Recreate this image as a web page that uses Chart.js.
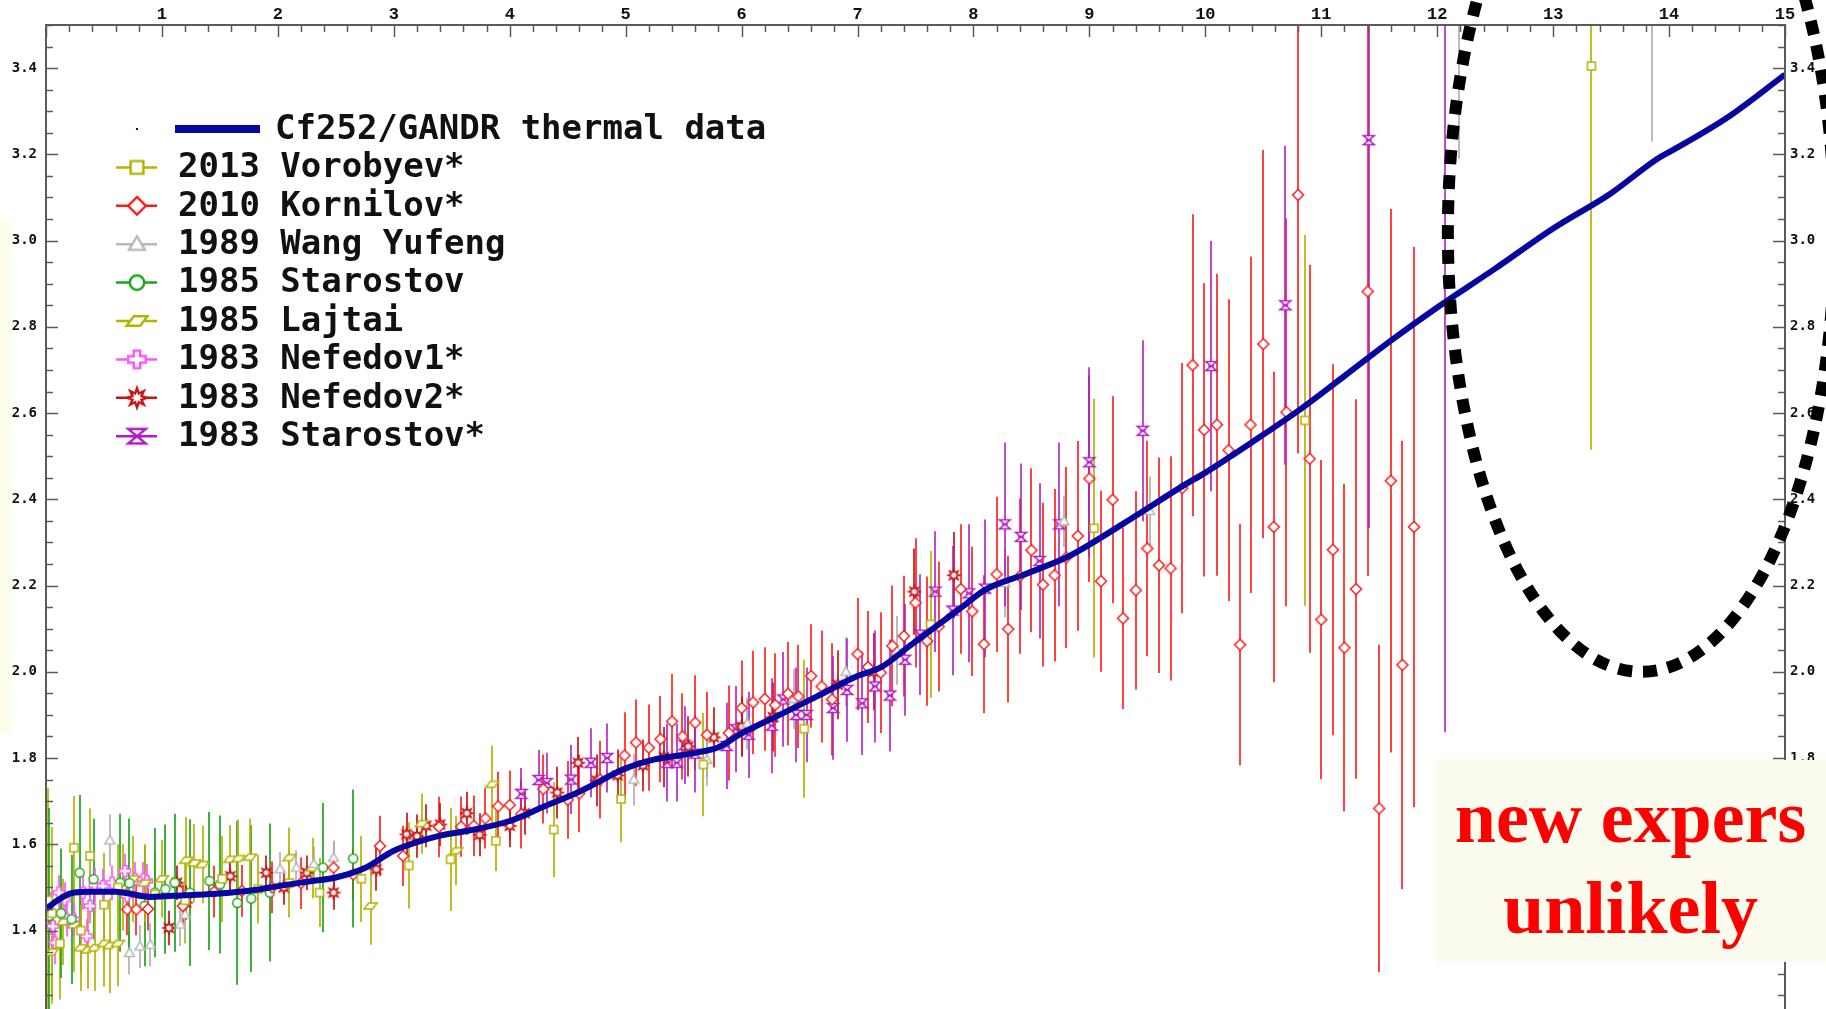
<!DOCTYPE html>
<html>
<head>
<meta charset="utf-8">
<title>Cf252 thermal data</title>
<script src="https://cdn.jsdelivr.net/npm/chart.js@4.4.0/dist/chart.umd.min.js"></script>
<style>
html, body { margin: 0; padding: 0; background: #fff; overflow: hidden; }
#wrap { position: relative; width: 1826px; height: 1009px; }
#leftPatch { position: absolute; left: 0; top: 220px; width: 11px; height: 514px; background: #fdfde9; }
#chart { position: absolute; left: 0; top: 0; }
#note {
    position: absolute; left: 1435px; top: 760px; width: 391px; height: 202px;
    background: #fcfcee; box-sizing: border-box; padding-top: 12px;
    text-align: center; color: #ff0000;
    font-family: "Liberation Serif", "Times New Roman", serif;
    font-weight: bold; font-size: 74px; line-height: 91px;
}
</style>
</head>
<body>
<div id="wrap">
    <div id="leftPatch"></div>
    <canvas id="chart" width="1826" height="1009"></canvas>
    <div id="note">new expers<br>unlikely</div>
</div>
<script>
/* ==========================================================
   DATA
========================================================== */
const xTicks = [1, 2, 3, 4, 5, 6, 7, 8, 9, 10, 11, 12, 13, 14, 15];
const yTicks = [1.4, 1.6, 1.8, 2.0, 2.2, 2.4, 2.6, 2.8, 3.0, 3.2, 3.4];

// Cf252/GANDR thermal data (thick blue curve)
const gandrX = [0, 0.1, 0.2, 0.35, 0.6, 0.9, 1.2, 1.5, 1.8, 2.0, 2.3, 2.5, 2.75, 3.0, 3.2, 3.4, 3.65, 4.0, 4.3, 4.6,
    5.0, 5.25, 5.6, 5.8, 6.0, 6.35, 6.65, 7.0, 7.2, 7.45, 7.7, 7.9, 8.1, 8.45, 8.8, 9.0, 9.4, 9.8, 10.0, 10.4,
    10.8, 11.2, 11.6, 12.0, 12.5, 13.0, 13.5, 13.9, 14.0, 14.5, 15.0];
const gandrY = [1.45, 1.47, 1.485, 1.49, 1.49, 1.478, 1.482, 1.486, 1.494, 1.503, 1.515, 1.523, 1.545, 1.585, 1.605, 1.62, 1.632, 1.654, 1.688, 1.722,
    1.776, 1.797, 1.812, 1.825, 1.857, 1.903, 1.943, 1.99, 2.01, 2.06, 2.11, 2.15, 2.19, 2.227, 2.265, 2.295, 2.362, 2.43, 2.462, 2.532,
    2.605, 2.686, 2.768, 2.845, 2.935, 3.028, 3.11, 3.19, 3.205, 3.285, 3.385];

// 2013 Vorobyev*
const vorobyevX = [0.02, 0.05, 0.12, 0.24, 0.3, 0.38, 0.5, 0.62, 0.94, 1.2, 1.52, 1.83, 2.1, 2.36, 2.72, 3.13, 3.49, 3.88, 4.38, 4.96, 5.67, 6.54, 7.63, 9.04, 10.86, 13.33];
const vorobyevY = [1.47, 1.44, 1.37, 1.592, 1.40, 1.573, 1.46, 1.50, 1.484, 1.47, 1.52, 1.496, 1.51, 1.488, 1.52, 1.551, 1.565, 1.608, 1.634, 1.705, 1.785, 1.868, 2.11, 2.333, 2.583, 3.405];
const vorobyevErr = [0.26, 0.2, 0.13, 0.12, 0.1, 0.11, 0.12, 0.1, 0.1, 0.1, 0.1, 0.08, 0.08, 0.08, 0.1, 0.1, 0.12, 0.07, 0.11, 0.1, 0.12, 0.16, 0.17, 0.3, 0.43, 0.89];

// 2010 Kornilov*
const kornilovX = [0.7, 0.78, 0.88, 1.18, 1.45, 1.69, 1.95, 2.2, 2.48, 2.65,
    2.88, 3.08, 3.39, 3.58, 3.69, 3.79, 3.9, 4.0, 4.1, 4.29,
    4.5, 4.6, 4.78, 4.99, 5.09, 5.2, 5.3, 5.4, 5.49, 5.6,
    5.7, 5.89, 6.0, 6.1, 6.2, 6.29, 6.4, 6.49, 6.6, 6.69,
    6.78, 7.0, 7.09, 7.2, 7.3, 7.4, 7.5, 7.6, 7.7, 7.89,
    7.99, 8.09, 8.2, 8.3, 8.4, 8.5, 8.6, 8.7, 8.8, 8.9,
    9.0, 9.1, 9.2, 9.29, 9.4, 9.5, 9.6, 9.7, 9.8, 9.89,
    9.99, 10.1, 10.2, 10.3, 10.39, 10.5, 10.59, 10.7, 10.8, 10.9,
    11.0, 11.1, 11.2, 11.3, 11.4, 11.5, 11.6, 11.7, 11.8];
const kornilovY = [1.449, 1.449, 1.45, 1.457, 1.49, 1.492, 1.5, 1.51, 1.546, 1.53,
    1.596, 1.573, 1.64, 1.641, 1.643, 1.66, 1.688, 1.691, 1.67, 1.728,
    1.703, 1.718, 1.75, 1.806, 1.836, 1.824, 1.844, 1.885, 1.85, 1.882,
    1.854, 1.858, 1.916, 1.929, 1.937, 1.923, 1.949, 1.943, 1.99, 1.966,
    1.936, 2.041, 2.011, 1.998, 2.06, 2.083, 2.16, 2.071, 2.105, 2.192,
    2.14, 2.064, 2.226, 2.099, 2.222, 2.282, 2.202, 2.224, 2.265, 2.315,
    2.448, 2.21, 2.399, 2.124, 2.189, 2.286, 2.247, 2.24, 2.426, 2.711,
    2.561, 2.573, 2.514, 2.063, 2.573, 2.76, 2.336, 2.602, 3.106, 2.494,
    2.121, 2.283, 2.056, 2.192, 2.882, 1.683, 2.443, 2.016, 2.336];
const kornilovErr = [0.06, 0.06, 0.05, 0.05, 0.06, 0.06, 0.06, 0.06, 0.06, 0.06,
    0.07, 0.07, 0.07, 0.07, 0.07, 0.07, 0.08, 0.08, 0.08, 0.08,
    0.09, 0.09, 0.09, 0.1, 0.1, 0.1, 0.1, 0.11, 0.1, 0.11,
    0.1, 0.11, 0.11, 0.12, 0.12, 0.12, 0.12, 0.12, 0.12, 0.13,
    0.13, 0.13, 0.13, 0.14, 0.14, 0.14, 0.15, 0.15, 0.15, 0.15,
    0.15, 0.16, 0.18, 0.17, 0.18, 0.19, 0.19, 0.2, 0.21, 0.22,
    0.24, 0.21, 0.24, 0.21, 0.23, 0.25, 0.25, 0.26, 0.29, 0.35,
    0.34, 0.35, 0.35, 0.28, 0.39, 0.45, 0.36, 0.45, 0.6, 0.45,
    0.37, 0.43, 0.38, 0.44, 0.66, 0.38, 0.63, 0.52, 0.65];

// 1989 Wang Yufeng
const wangX = [0.55, 0.72, 0.81, 0.9, 1.16, 1.2, 2.02, 2.16, 2.31, 2.48, 5.07, 5.7, 6.05, 6.45, 6.9, 7.34, 8.27, 8.78, 9.52, 12.19, 13.85];
const wangY = [1.609, 1.348, 1.363, 1.367, 1.414, 1.437, 1.542, 1.546, 1.554, 1.569, 1.75, 1.796, 1.88, 1.937, 2.0, 2.05, 2.206, 2.349, 2.373, 3.65, 3.65];
const wangErr = [0.06, 0.05, 0.05, 0.05, 0.05, 0.05, 0.04, 0.04, 0.04, 0.04, 0.06, 0.06, 0.06, 0.07, 0.08, 0.08, 0.08, 0.06, 0.08, 0.46, 0.42];

// 1985 Starostov
const starostov85X = [0.03, 0.13, 0.22, 0.29, 0.41, 0.64, 0.72, 0.85, 0.94, 1.03, 1.11, 1.24, 1.41, 1.5, 1.65, 1.77, 1.93, 2.39, 2.65];
const starostov85Y = [1.434, 1.44, 1.426, 1.534, 1.519, 1.511, 1.51, 1.457, 1.488, 1.496, 1.511, 1.488, 1.515, 1.507, 1.464, 1.474, 1.488, 1.546, 1.567];
const starostov85Err = [0.25, 0.15, 0.15, 0.18, 0.14, 0.16, 0.15, 0.14, 0.15, 0.15, 0.16, 0.17, 0.16, 0.16, 0.19, 0.17, 0.16, 0.15, 0.16];

// 1985 Lajtai
const lajtaiX = [0.05, 0.15, 0.24, 0.3, 0.36, 0.42, 0.5, 0.55, 0.62, 0.66, 0.75, 0.85, 1.0, 1.21, 1.28, 1.35, 1.59, 1.66, 1.76, 2.1, 2.3, 2.8, 3.24, 3.54, 3.85];
const lajtaiY = [1.35, 1.42, 1.413, 1.36, 1.355, 1.36, 1.37, 1.365, 1.37, 1.50, 1.52, 1.51, 1.52, 1.563, 1.557, 1.553, 1.565, 1.567, 1.57, 1.569, 1.545, 1.457, 1.648, 1.585, 1.739];
const lajtaiErr = [0.12, 0.1, 0.11, 0.1, 0.09, 0.1, 0.1, 0.11, 0.1, 0.1, 0.1, 0.09, 0.09, 0.1, 0.09, 0.09, 0.08, 0.09, 0.09, 0.07, 0.07, 0.09, 0.07, 0.08, 0.09];

// 1983 Nefedov1*
const nefedov1X = [0.04, 0.06, 0.08, 0.11, 0.16, 0.18, 0.24, 0.32, 0.35, 0.38, 0.42, 0.49, 0.57, 0.68, 0.7, 0.77, 0.84, 0.87];
const nefedov1Y = [1.44, 1.41, 1.372, 1.488, 1.472, 1.426, 1.426, 1.488, 1.387, 1.457, 1.505, 1.503, 1.511, 1.538, 1.48, 1.519, 1.519, 1.515];
const nefedov1Err = [0.05, 0.05, 0.05, 0.04, 0.04, 0.04, 0.04, 0.04, 0.04, 0.04, 0.04, 0.04, 0.04, 0.04, 0.04, 0.04, 0.04, 0.04];

// 1983 Nefedov2*
const nefedov2X = [1.06, 1.13, 1.21, 1.59, 1.9, 2.05, 2.25, 2.48, 2.85, 3.11, 3.2, 3.28, 3.4, 3.63, 3.74, 4.0, 4.13, 4.41, 4.59, 4.75,
    4.93, 5.15, 5.33, 5.54, 5.76, 6.0, 6.27, 6.83, 7.14, 7.49, 7.83];
const nefedov2Y = [1.406, 1.511, 1.465, 1.526, 1.534, 1.5, 1.534, 1.488, 1.542, 1.623, 1.619, 1.643, 1.646, 1.672, 1.622, 1.643, 1.672, 1.72, 1.789, 1.748,
    1.76, 1.783, 1.802, 1.827, 1.848, 1.873, 1.895, 1.97, 2.0, 2.186, 2.224];
const nefedov2Err = [0.04, 0.04, 0.04, 0.04, 0.04, 0.04, 0.04, 0.04, 0.05, 0.05, 0.05, 0.05, 0.05, 0.05, 0.05, 0.05, 0.05, 0.06, 0.06, 0.06,
    0.06, 0.06, 0.07, 0.07, 0.07, 0.07, 0.08, 0.08, 0.09, 0.1, 0.1];

// 1983 Starostov*
const starostov83X = [4.1, 4.25, 4.32, 4.53, 4.7, 4.84, 5.36, 5.44, 5.51, 5.6, 5.87, 5.95, 6.06, 6.26, 6.36, 6.47, 6.56, 6.79, 6.91, 7.04,
    7.15, 7.28, 7.41, 7.54, 7.67, 7.82, 7.96, 8.1, 8.27, 8.41, 8.57, 8.74, 9.0, 9.46, 10.05, 10.69, 11.41, 12.07];
const starostov83Y = [1.717, 1.749, 1.742, 1.75, 1.789, 1.8, 1.789, 1.789, 1.83, 1.81, 1.828, 1.867, 1.854, 1.875, 1.936, 1.9, 1.9, 1.916, 1.958, 1.927,
    1.966, 1.945, 2.028, 2.086, 2.186, 2.142, 2.182, 2.193, 2.342, 2.313, 2.257, 2.342, 2.486, 2.559, 2.709, 2.85, 3.233, 3.65];
const starostov83Err = [0.06, 0.07, 0.07, 0.08, 0.08, 0.08, 0.09, 0.09, 0.09, 0.09, 0.1, 0.1, 0.1, 0.11, 0.11, 0.11, 0.11, 0.12, 0.12, 0.12,
    0.13, 0.13, 0.13, 0.14, 0.14, 0.15, 0.16, 0.16, 0.19, 0.17, 0.18, 0.19, 0.22, 0.21, 0.29, 0.37, 0.9, 1.79];

// dotted ellipse annotation, in data units
const ringCenter = [13.76, 3.019];
const ringRadius = [1.668, 1.019];

/* ==========================================================
   MARKERS (small canvases used as pointStyle)
========================================================== */
function makeMarker(kind, color, s) {
    const size = Math.ceil(16 * s);
    const c = document.createElement("canvas");
    c.width = size; c.height = size;
    const g = c.getContext("2d");
    g.translate(size / 2, size / 2);
    g.scale(s, s);
    g.strokeStyle = color;
    g.fillStyle = "#fff";
    g.lineWidth = 1.5;
    g.beginPath();
    if (kind === "square") {
        g.rect(-4, -4, 8, 8);
    } else if (kind === "diamond") {
        g.moveTo(0, -5.5); g.lineTo(5.5, 0); g.lineTo(0, 5.5); g.lineTo(-5.5, 0); g.closePath();
    } else if (kind === "triangle") {
        g.moveTo(0, -5); g.lineTo(5, 3.5); g.lineTo(-5, 3.5); g.closePath();
    } else if (kind === "circle") {
        g.arc(0, 0, 4.5, 0, Math.PI * 2);
    } else if (kind === "plus") {
        const a = 2, b = 5.5;
        g.moveTo(-a, -b); g.lineTo(a, -b); g.lineTo(a, -a); g.lineTo(b, -a); g.lineTo(b, a); g.lineTo(a, a);
        g.lineTo(a, b); g.lineTo(-a, b); g.lineTo(-a, a); g.lineTo(-b, a); g.lineTo(-b, -a); g.lineTo(-a, -a); g.closePath();
    } else if (kind === "star") {
        for (let i = 0; i < 16; i++) {
            const r = i % 2 === 0 ? 6 : 3;
            const ang = i * Math.PI / 8;
            const px = r * Math.cos(ang), py = r * Math.sin(ang);
            if (i === 0) g.moveTo(px, py); else g.lineTo(px, py);
        }
        g.closePath();
    } else if (kind === "hourglass") {
        g.moveTo(-5.5, -4.5); g.lineTo(5.5, -4.5); g.lineTo(-5.5, 4.5); g.lineTo(5.5, 4.5); g.closePath();
    } else if (kind === "slant") {
        g.moveTo(-6.5, 3); g.lineTo(-2, -3); g.lineTo(6.5, -3); g.lineTo(2, 3); g.closePath();
    }
    g.fill();
    g.stroke();
    if (kind === "hourglass") {
        g.beginPath(); g.moveTo(-3, 0); g.lineTo(3, 0); g.stroke();
    }
    return c;
}

function pts(xs, ys) {
    return xs.map((x, i) => ({ x: x, y: ys[i] }));
}

function series(label, xs, ys, errs, color, barColor, kind) {
    return {
        label: label,
        data: pts(xs, ys),
        errorBars: errs,
        errorColor: barColor,
        borderColor: color,
        backgroundColor: "#fff",
        pointStyle: makeMarker(kind, color, 1),
        legendMarker: makeMarker(kind, color, 1.6),
        pointRadius: 6,
        showLine: false
    };
}

const scatterSets = [
    series("2013 Vorobyev*", vorobyevX, vorobyevY, vorobyevErr, "#b3b300", "rgba(179,179,0,0.85)", "square"),
    series("2010 Kornilov*", kornilovX, kornilovY, kornilovErr, "#ff1a1a", "rgba(255,20,20,0.8)", "diamond"),
    series("1989 Wang Yufeng", wangX, wangY, wangErr, "#b8b8b8", "rgba(180,180,180,0.9)", "triangle"),
    series("1985 Starostov", starostov85X, starostov85Y, starostov85Err, "#1aa61a", "rgba(26,166,26,0.85)", "circle"),
    series("1985 Lajtai", lajtaiX, lajtaiY, lajtaiErr, "#b3b300", "rgba(179,179,0,0.85)", "slant"),
    series("1983 Nefedov1*", nefedov1X, nefedov1Y, nefedov1Err, "#ff55ff", "rgba(255,85,255,0.85)", "plus"),
    series("1983 Nefedov2*", nefedov2X, nefedov2Y, nefedov2Err, "#c81414", "rgba(200,20,20,0.85)", "star"),
    series("1983 Starostov*", starostov83X, starostov83Y, starostov83Err, "#b01cc4", "rgba(176,28,196,0.8)", "hourglass")
];

const gandrSet = {
    label: "Cf252/GANDR thermal data",
    data: pts(gandrX, gandrY),
    showLine: true,
    borderColor: "#0606a0",
    borderWidth: 6,
    pointRadius: 0,
    cubicInterpolationMode: "monotone"
};

/* ==========================================================
   PLUGINS
========================================================== */
const errorBarPlugin = {
    id: "errorBars",
    beforeDatasetsDraw(chart) {
        const { ctx, chartArea } = chart;
        const xs = chart.scales.x, ys = chart.scales.y;
        ctx.save();
        ctx.beginPath();
        ctx.rect(chartArea.left, chartArea.top, chartArea.right - chartArea.left, chartArea.bottom - chartArea.top);
        ctx.clip();
        ctx.lineWidth = 2;
        chart.data.datasets.forEach(ds => {
            if (!ds.errorBars) return;
            ctx.strokeStyle = ds.errorColor;
            ds.data.forEach((p, i) => {
                const e = ds.errorBars[i];
                const px = Math.round(xs.getPixelForValue(p.x));
                ctx.beginPath();
                ctx.moveTo(px, ys.getPixelForValue(p.y - e));
                ctx.lineTo(px, ys.getPixelForValue(p.y + e));
                ctx.stroke();
            });
        });
        ctx.restore();
    }
};

const axisPlugin = {
    id: "axisFrame",
    afterDraw(chart) {
        const { ctx, chartArea } = chart;
        const xs = chart.scales.x, ys = chart.scales.y;
        const L = chartArea.left, R = chartArea.right, T = chartArea.top, B = chartArea.bottom;
        ctx.save();
        ctx.strokeStyle = "#5a5a5a";
        ctx.lineWidth = 2;
        ctx.beginPath();
        ctx.moveTo(L, B); ctx.lineTo(L, T); ctx.lineTo(R, T); ctx.lineTo(R, B);
        ctx.stroke();
        ctx.lineWidth = 1.5;
        // top axis: major every 1, minor every 0.2
        for (let i = 0; i <= 75; i++) {
            const px = Math.round(xs.getPixelForValue(i / 5)) + 0.5;
            const len = i % 5 === 0 ? 12 : 7;
            ctx.beginPath(); ctx.moveTo(px, T); ctx.lineTo(px, T + len); ctx.stroke();
        }
        // left and right axes: major every 0.2, minor every 0.05
        for (let i = 25; i <= 70; i++) {
            const py = Math.round(ys.getPixelForValue(i / 20)) + 0.5;
            if (py > B) continue;
            const len = i % 4 === 0 ? 12 : 7;
            ctx.beginPath(); ctx.moveTo(L, py); ctx.lineTo(L + len, py); ctx.stroke();
            ctx.beginPath(); ctx.moveTo(R, py); ctx.lineTo(R - len, py); ctx.stroke();
        }
        ctx.restore();
    }
};

const legendPlugin = {
    id: "legendBlock",
    afterDraw(chart) {
        const ctx = chart.ctx;
        const rowY = i => 129 + i * 38.4;
        ctx.save();
        ctx.font = 'bold 34px "DejaVu Sans Mono", monospace';
        ctx.textBaseline = "middle";
        // thermal data row
        ctx.fillStyle = gandrSet.borderColor;
        ctx.fillRect(136, rowY(0) - 1, 2, 2);
        ctx.fillRect(175, rowY(0) - 4, 85, 8);
        ctx.fillStyle = "#111";
        ctx.fillText(gandrSet.label, 275, rowY(0) + 1);
        scatterSets.forEach((ds, k) => {
            const y = rowY(k + 1);
            ctx.strokeStyle = ds.borderColor;
            ctx.lineWidth = 2.5;
            ctx.beginPath(); ctx.moveTo(116, y); ctx.lineTo(157, y); ctx.stroke();
            const m = ds.legendMarker;
            ctx.drawImage(m, 137 - m.width / 2, y - m.height / 2);
            ctx.fillStyle = "#111";
            ctx.fillText(ds.label, 178, y + 1);
        });
        ctx.restore();
    }
};

const ringPlugin = {
    id: "ring",
    afterDraw(chart) {
        const ctx = chart.ctx;
        const xs = chart.scales.x, ys = chart.scales.y;
        const cx = xs.getPixelForValue(ringCenter[0]);
        const cy = ys.getPixelForValue(ringCenter[1]);
        const rx = xs.getPixelForValue(ringCenter[0] + ringRadius[0]) - cx;
        const ry = ys.getPixelForValue(ringCenter[1] - ringRadius[1]) - cy;
        ctx.save();
        ctx.strokeStyle = "#000";
        ctx.lineWidth = 12;
        ctx.lineCap = "butt";
        ctx.setLineDash([14, 11]);
        ctx.beginPath();
        ctx.ellipse(cx, cy, rx, ry, 0, 0, Math.PI * 2);
        ctx.stroke();
        ctx.restore();
    }
};

/* ==========================================================
   CHART
========================================================== */
const tickFontY = { family: "DejaVu Sans Mono", weight: "bold", size: 14 };

// fixed axis sizes, and no extra padding for the first/last tick label
function fixWidth(w) {
    return s => {
        s.width = w;
        s.paddingTop = 0; s.paddingBottom = 0;
    };
}

new Chart(document.getElementById("chart").getContext("2d"), {
    type: "scatter",
    data: { datasets: [gandrSet].concat(scatterSets) },
    options: {
        responsive: false,
        animation: false,
        devicePixelRatio: 1,
        layout: { padding: 0, autoPadding: false },
        plugins: { legend: { display: false }, tooltip: { enabled: false } },
        scales: {
            x: {
                type: "linear", position: "top", min: 0, max: 15,
                afterBuildTicks: s => { s.ticks = xTicks.map(v => ({ value: v })); },
                afterFit: s => { s.height = 25; s.paddingLeft = 0; s.paddingRight = 0; },
                grid: { display: false, drawTicks: false },
                border: { display: false },
                ticks: {
                    color: "#111", padding: 0, maxRotation: 0, autoSkip: false,
                    font: { family: "Liberation Mono", weight: "bold", size: 17 }
                }
            },
            y: {
                type: "linear", position: "left", min: 1.218, max: 3.5,
                afterBuildTicks: s => { s.ticks = yTicks.map(v => ({ value: v })); },
                afterFit: fixWidth(46),
                grid: { display: false, drawTicks: false },
                border: { display: false },
                ticks: { color: "#111", padding: 9, font: tickFontY, callback: v => v.toFixed(1) }
            },
            y2: {
                type: "linear", position: "right", min: 1.218, max: 3.5,
                afterBuildTicks: s => { s.ticks = yTicks.map(v => ({ value: v })); },
                afterFit: fixWidth(41),
                grid: { display: false, drawTicks: false },
                border: { display: false },
                ticks: { color: "#111", padding: 5, font: tickFontY, callback: v => v.toFixed(1) }
            }
        }
    },
    plugins: [errorBarPlugin, axisPlugin, legendPlugin, ringPlugin]
});
</script>
</body>
</html>
